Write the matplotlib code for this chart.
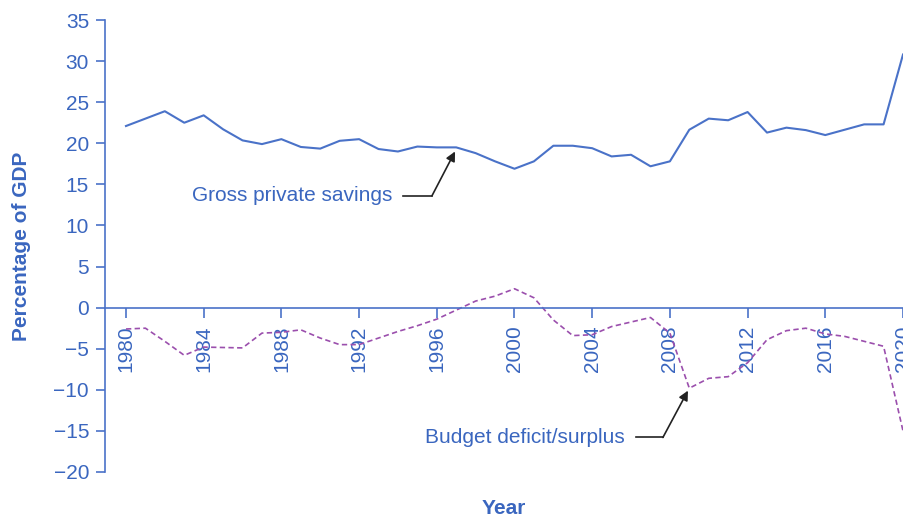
import matplotlib
matplotlib.use("Agg")
import matplotlib.pyplot as plt

plt.rcParams['font.family'] = ['Liberation Sans', 'DejaVu Sans']

years = list(range(1980, 2021))
savings = [22.1, 23.0, 23.9, 22.5, 23.4, 21.7, 20.35, 19.9, 20.5, 19.55,
           19.35, 20.3, 20.5, 19.3, 19.0, 19.6, 19.5, 19.5, 18.8, 17.8,
           16.9, 17.8, 19.7, 19.7, 19.4, 18.4, 18.6, 17.2, 17.8, 21.65,
           23.0, 22.8, 23.8, 21.3, 21.9, 21.6, 21.0, 21.65, 22.3, 22.3,
           30.8]
budget = [-2.6, -2.5, -4.1, -5.8, -4.8, -4.85, -4.9, -3.1, -3.0, -2.7,
          -3.7, -4.5, -4.5, -3.7, -2.9, -2.2, -1.4, -0.3, 0.8, 1.4,
          2.3, 1.2, -1.5, -3.4, -3.3, -2.3, -1.75, -1.2, -3.1, -9.8,
          -8.6, -8.4, -6.7, -3.9, -2.8, -2.5, -3.2, -3.5, -4.1, -4.7,
          -15.0]
xticks = list(range(1980, 2021, 4))
yticks = list(range(-20, 36, 5))

blue = '#3a66bf'
line_blue = '#4a72c8'
purple = '#9b4fad'

fig = plt.figure(figsize=(9.04, 5.17), dpi=100)
ax = fig.add_axes([105 / 904, 1 - 472 / 517, 798 / 904, 452 / 517])

ax.plot(years, savings, color=line_blue, lw=1.5, clip_on=False)
ax.plot(years, budget, color=purple, lw=1.2, ls=(0, (3.2, 2)), clip_on=False)

ax.set_xlim(1978.92, 2020.0)
ax.set_ylim(-20, 35)

ax.spines['top'].set_visible(False)
ax.spines['right'].set_visible(False)
ax.spines['bottom'].set_position(('data', 0))
for s in ('left', 'bottom'):
    ax.spines[s].set_color(line_blue)
    ax.spines[s].set_linewidth(1.2)

ax.set_xticks(xticks)
ax.set_xticklabels([str(y) for y in xticks], rotation=90, va='top')
ax.set_yticks(yticks)
ax.set_yticklabels([str(v).replace('-', '\u2212') for v in yticks])
ax.tick_params(axis='x', direction='out', length=7, width=1.2, color=line_blue,
               labelcolor=blue, labelsize=15, pad=6)
ax.tick_params(axis='y', direction='out', length=6.5, width=1.2, color=line_blue,
               labelcolor=blue, labelsize=15, pad=5)

# annotations
ax.text(1993.7, 13.6, 'Gross private savings', color=blue, fontsize=15,
        ha='right', va='center')
ax.plot([1994.26, 1995.75], [13.6, 13.6], color='#222222', lw=1.2)
ax.annotate('', xy=(1996.94, 19.0), xytext=(1995.75, 13.6),
            arrowprops=dict(arrowstyle='-|>', color='#222222', lw=1.2,
                            shrinkA=0, shrinkB=0, mutation_scale=14))

ax.text(2005.69, -15.8, 'Budget deficit/surplus', color=blue, fontsize=15,
        ha='right', va='center')
ax.plot([2006.25, 2007.64], [-15.8, -15.8], color='#222222', lw=1.2)
ax.annotate('', xy=(2008.93, -10.1), xytext=(2007.64, -15.8),
            arrowprops=dict(arrowstyle='-|>', color='#222222', lw=1.2,
                            shrinkA=0, shrinkB=0, mutation_scale=14))

fig.text(22 / 904, 1 - 246 / 517, 'Percentage of GDP', color=blue, fontsize=15,
         fontweight='bold', rotation=90, ha='center', va='center')
fig.text(504 / 904, 1 - 508 / 517, 'Year', color=blue, fontsize=15,
         fontweight='bold', ha='center', va='center')

fig.savefig('out.png', dpi=100)
